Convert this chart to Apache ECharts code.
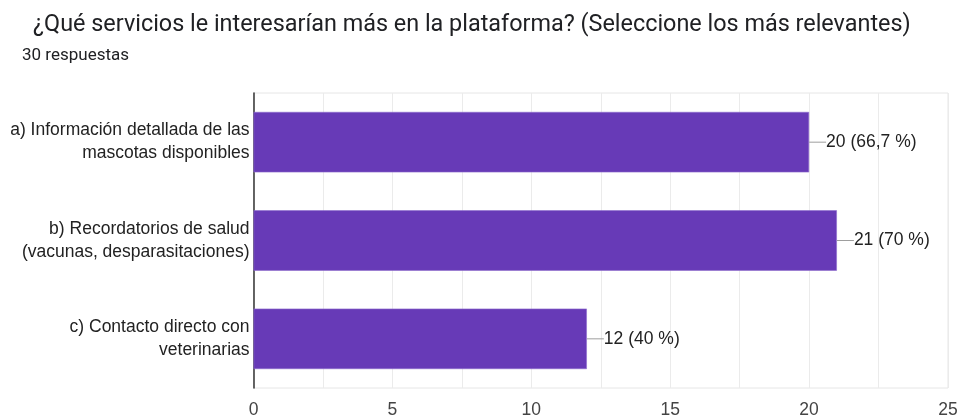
<!DOCTYPE html>
<html>
<head>
<meta charset="utf-8">
<script src="https://cdn.jsdelivr.net/npm/echarts@6/dist/echarts.min.js"></script>
<style>
  html, body { margin: 0; padding: 0; background: #fff; }
  #chart { width: 961px; height: 419px; }
</style>
</head>
<body>
<div id="chart"></div>
<script>
// Survey answers: options, response counts and shares
const categories = [
  'a) Información detallada de las\nmascotas disponibles',
  'b) Recordatorios de salud\n(vacunas, desparasitaciones)',
  'c) Contacto directo con\nveterinarias'
];
const counts = [20, 21, 12];
const shares = ['66,7', '70', '40'];
const xTicks = [0, 5, 10, 15, 20, 25];

const chartFont = '"Liberation Sans", Arial, sans-serif';
const chart = echarts.init(document.getElementById('chart'), null, { renderer: 'canvas' });

chart.setOption({
  backgroundColor: '#ffffff',
  animation: false,
  textStyle: { fontFamily: chartFont },
  title: [
    {
      text: '¿Qué servicios le interesarían más en la plataforma? (Seleccione los más relevantes)',
      left: 28, top: 9,
      textStyle: { fontSize: 23.4, fontWeight: 'normal', color: '#202124', fontFamily: 'Roboto' }
    },
    {
      text: '30 respuestas',
      left: 17, top: 42,
      textStyle: { fontSize: 17, fontWeight: 'normal', color: '#202124', fontFamily: 'Roboto' }
    }
  ],
  grid: { left: 253.5, right: 13, top: 93, bottom: 29, show: true, borderColor: '#e6e6e6', borderWidth: 1 },
  xAxis: {
    type: 'value',
    min: xTicks[0],
    max: xTicks[xTicks.length - 1],
    interval: 5,
    axisLine: { show: false },
    axisTick: { show: false },
    axisLabel: { color: '#444', fontSize: 17.5, margin: 13, fontFamily: chartFont },
    splitLine: { show: true, lineStyle: { color: '#ebebeb', width: 1 } },
    minorTick: { show: false, splitNumber: 2 },
    minorSplitLine: { show: true, lineStyle: { color: '#ebebeb', width: 1 } }
  },
  yAxis: {
    type: 'category',
    inverse: true,
    data: categories,
    axisLine: { show: true, lineStyle: { color: '#333', width: 1.5 } },
    axisTick: { show: false },
    axisLabel: { color: '#222', fontSize: 17.5, lineHeight: 23, align: 'right', margin: 4, fontFamily: chartFont }
  },
  series: [{
    type: 'bar',
    data: counts,
    barCategoryGap: '38.5%',
    itemStyle: { color: '#673ab7', borderColor: '#8d6ccc', borderWidth: 0.6 },
    label: {
      show: true,
      position: 'right',
      distance: 0,
      formatter: (p) => '{ln|}{t|' + p.value + ' (' + shares[p.dataIndex] + ' %)}',
      rich: {
        ln: { width: 17, height: 1, backgroundColor: '#9e9e9e' },
        t: { fontSize: 17.5, color: '#222', fontFamily: chartFont }
      }
    }
  }]
});
</script>
</body>
</html>
